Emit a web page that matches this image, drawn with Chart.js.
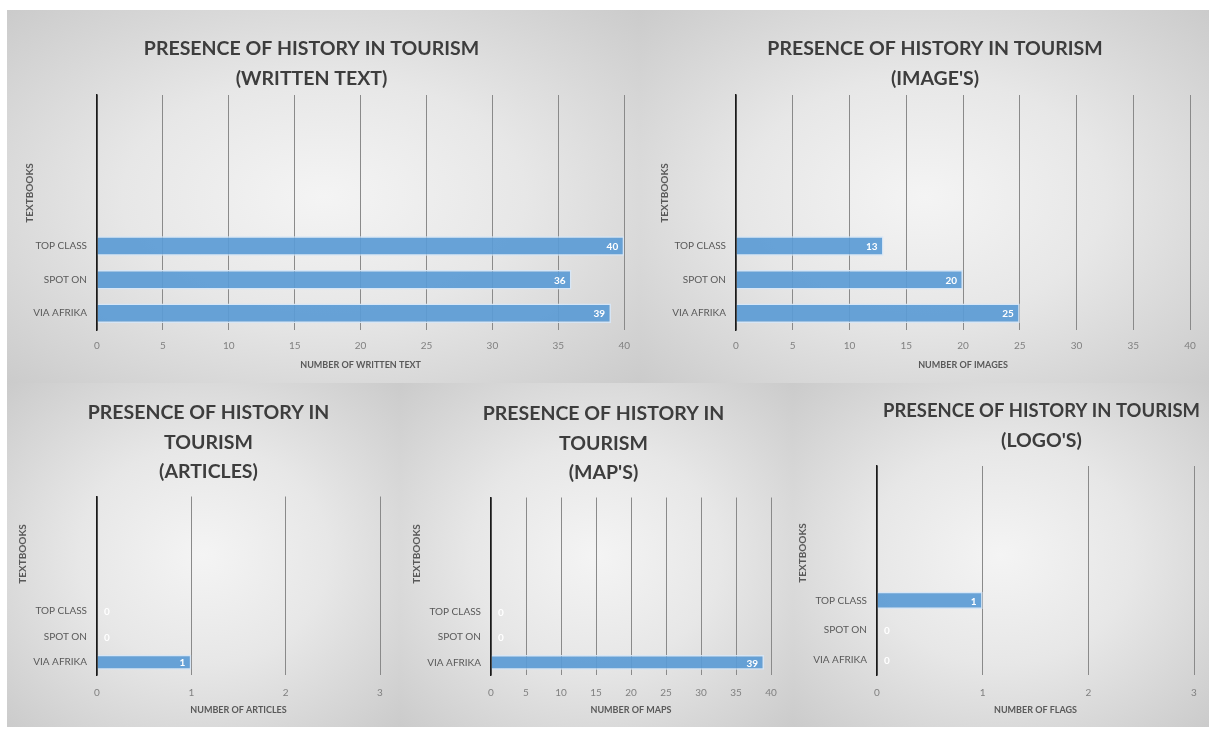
<!DOCTYPE html>
<html><head><meta charset="utf-8">
<script src="https://cdn.jsdelivr.net/npm/chart.js@4.4.1/dist/chart.umd.min.js"></script>
<style>
html,body{margin:0;padding:0;background:#fff;width:1209px;height:729px;overflow:hidden;position:relative;}
.p{position:absolute;background:radial-gradient(ellipse farthest-corner at 50% 50%, #f4f4f4 0%, #e7e7e7 45%, #cbcbcb 100%);}
.p canvas{position:absolute;left:0;top:0}
</style></head><body>
<div class="p" style="left:7px;top:10px;width:633px;height:373px"><canvas id="c1" width="633" height="373"></canvas></div>
<div class="p" style="left:640px;top:10px;width:569px;height:373px"><canvas id="c2" width="569" height="373"></canvas></div>
<div class="p" style="left:7px;top:383px;width:393px;height:344px"><canvas id="c3" width="393" height="344"></canvas></div>
<div class="p" style="left:400px;top:383px;width:393px;height:344px"><canvas id="c4" width="393" height="344"></canvas></div>
<div class="p" style="left:793px;top:383px;width:416px;height:344px"><canvas id="c5" width="416" height="344"></canvas></div>
<script>
// ---- data ----
const categories = ['TOP CLASS', 'SPOT ON', 'VIA AFRIKA'];
const blankRows = 4;
const writtenText = [40, 36, 39];
const images = [13, 20, 25];
const articles = [0, 0, 1];
const maps = [0, 0, 39];
const logos = [1, 0, 0];
const yAxisTitle = 'TEXTBOOKS';
const titleWritten = ['PRESENCE OF HISTORY IN TOURISM', '(WRITTEN TEXT)'];
const titleImages = ['PRESENCE OF HISTORY IN TOURISM', "(IMAGE'S)"];
const titleArticles = ['PRESENCE OF HISTORY IN', 'TOURISM', '(ARTICLES)'];
const titleMaps = ['PRESENCE OF HISTORY IN', 'TOURISM', "(MAP'S)"];
const titleLogos = ['PRESENCE OF HISTORY IN TOURISM', "(LOGO'S)"];
const xTitleWritten = 'NUMBER OF WRITTEN TEXT';
const xTitleImages = 'NUMBER OF IMAGES';
const xTitleArticles = 'NUMBER OF ARTICLES';
const xTitleMaps = 'NUMBER OF MAPS';
const xTitleLogos = 'NUMBER OF FLAGS';

const FONT = 'Lato';
const labelsPadded = [...Array(blankRows).fill(''), ...categories];
const pad = vals => [...Array(blankRows).fill(null), ...vals];

const valueLabels = {
  id: 'valueLabels',
  afterDatasetsDraw(chart) {
    const ctx = chart.ctx;
    const meta = chart.getDatasetMeta(0);
    const data = chart.data.datasets[0].data;
    ctx.save();
    ctx.fillStyle = '#ffffff';
    ctx.font = 'bold 10px ' + FONT;
    ctx.textBaseline = 'middle';
    meta.data.forEach((bar, i) => {
      const v = data[i];
      if (v === null || v === undefined) return;
      if (v === 0) { ctx.textAlign = 'left'; ctx.fillText(String(v), bar.base + 7, bar.y + 1); }
      else { ctx.textAlign = 'right'; ctx.fillText(String(v), bar.x - 6, bar.y + 1); }
    });
    ctx.restore();
  }
};
const sideTitle = {
  id: 'sideTitle',
  afterDraw(chart, args, opts) {
    const ctx = chart.ctx;
    ctx.save();
    ctx.translate(opts.x, opts.y);
    ctx.rotate(-Math.PI / 2);
    ctx.fillStyle = '#595959';
    ctx.font = 'bold 10px ' + FONT;
    ctx.textAlign = 'center';
    ctx.textBaseline = 'middle';
    ctx.fillText(opts.text, 0, 0);
    ctx.restore();
  }
};
const titleShift = {
  id: 'titleShift',
  afterLayout(chart, args, opts) {
    const t = chart.titleBlock;
    if (t && opts.dx) { t.left += opts.dx; t.right += opts.dx; }
  }
};

function make(id, values, g) {
  new Chart(document.getElementById(id), {
    type: 'bar',
    data: {
      labels: labelsPadded,
      datasets: [{
        data: pad(values),
        backgroundColor: 'rgba(91,155,213,0.92)',
        borderColor: 'rgba(214,230,247,0.95)',
        borderWidth: 1.5,
        categoryPercentage: 1,
        barPercentage: 0.58
      }]
    },
    options: {
      indexAxis: 'y',
      responsive: false,
      animation: false,
      layout: { padding: { left: 0, right: g.padR, top: 0, bottom: 0 } },
      plugins: {
        legend: { display: false },
        tooltip: { enabled: false },
        title: {
          display: true, text: g.title, fullSize: g.fullSize !== false,
          color: '#3d3d3d', font: { family: FONT, size: 19.5, weight: 'bold', lineHeight: g.tLH / 19.5 },
          padding: { top: g.tPadT, bottom: g.tPadB }
        },
        sideTitle: { text: yAxisTitle, x: g.yTx, y: g.yTy },
        titleShift: { dx: g.tdx }
      },
      scales: {
        x: {
          min: 0, max: g.max,
          ticks: { stepSize: g.step, color: '#808080', font: { family: FONT, size: 10 }, padding: g.tickPad },
          grid: { color: ctx => (ctx.tick && ctx.tick.value === 0) ? '#1a1a1a' : '#8a8a8a', lineWidth: ctx => (ctx.tick && ctx.tick.value === 0) ? 1.5 : 1, drawTicks: false },
          border: { display: false },
          title: { display: true, text: g.xTitle, color: '#595959', font: { family: FONT, size: 9, weight: 'bold' }, padding: { top: g.xtPad, bottom: g.xtPad } },
          afterFit: s => { s.height = g.xh; }
        },
        y: {
          ticks: { color: '#595959', font: { family: FONT, size: 10 }, padding: 10 },
          grid: { display: false, drawTicks: false },
          border: { display: true, color: '#1a1a1a', width: 1.5 },
          afterFit: s => { s.width = g.yw; }
        }
      }
    },
    plugins: [valueLabels, sideTitle, titleShift]
  });
}

make('c1', writtenText, { title: titleWritten, xTitle: xTitleWritten, max: 40, step: 5, padR: 12, yw: 90, xh: 53, tLH: 30, tPadT: 24, tPadB: 1, tickPad: 10, xtPad: 13, yTx: 23, yTy: 183, tdx: -6 });
make('c2', images, { title: titleImages, xTitle: xTitleImages, max: 40, step: 5, padR: 19, yw: 96, xh: 53, tLH: 30, tPadT: 24, tPadB: 1, tickPad: 10, xtPad: 13, yTx: 25, yTy: 183, tdx: 20 });
make('c3', articles, { title: titleArticles, xTitle: xTitleArticles, max: 3, step: 1, padR: 20, yw: 90, xh: 52, tLH: 29.5, tPadT: 15, tPadB: 10, tickPad: 12, xtPad: 12, yTx: 16, yTy: 171, tdx: 15 });
make('c4', maps, { title: titleMaps, xTitle: xTitleMaps, max: 40, step: 5, padR: 22, yw: 91, xh: 52, tLH: 29.5, tPadT: 16, tPadB: 10, tickPad: 12, xtPad: 12, yTx: 17, yTy: 171, tdx: 18 });
make('c5', logos, { title: titleLogos, xTitle: xTitleLogos, max: 3, step: 1, padR: 15, yw: 84, xh: 52, tLH: 30, tPadT: 13, tPadB: 10, tickPad: 12, xtPad: 12, yTx: 10, yTy: 170, fullSize: false, tdx: 6 });
</script>
</body></html>
